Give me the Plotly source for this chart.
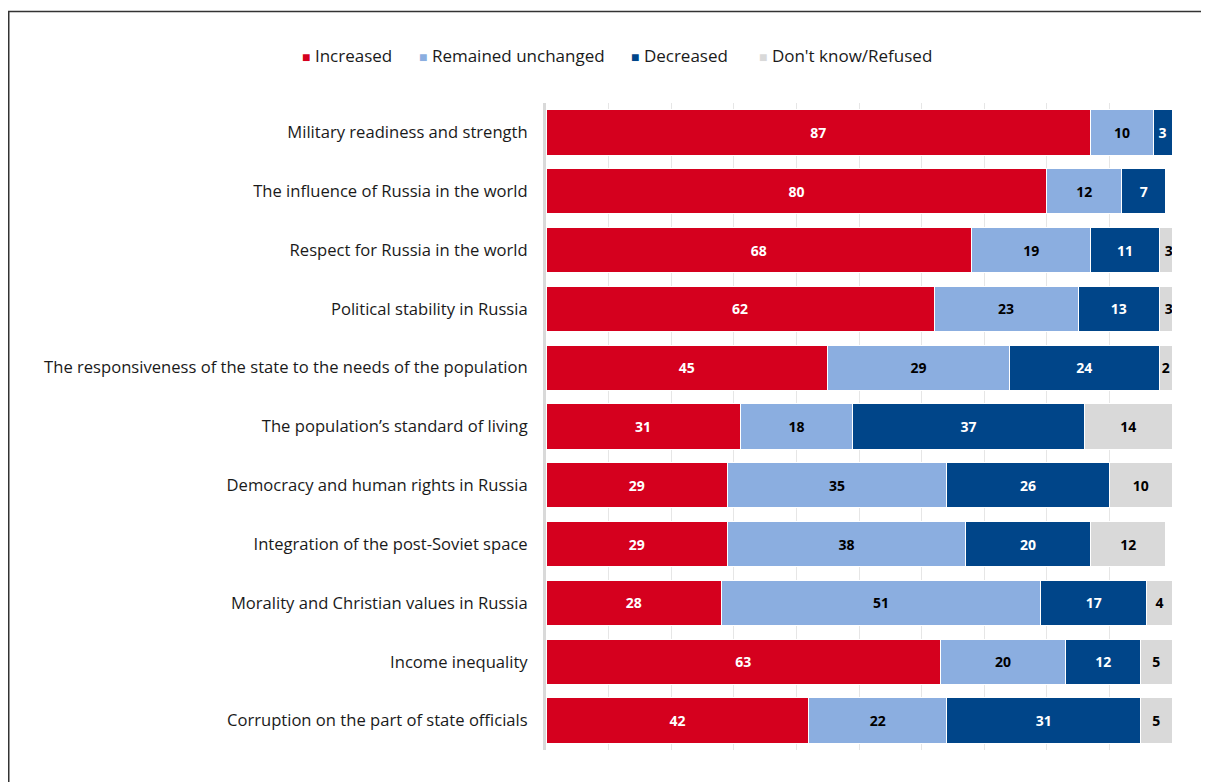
import plotly.graph_objects as go

categories = [
    "Military readiness and strength",
    "The influence of Russia in the world",
    "Respect for Russia in the world",
    "Political stability in Russia",
    "The responsiveness of the state to the needs of the population",
    "The population\u2019s standard of living",
    "Democracy and human rights in Russia",
    "Integration of the post-Soviet space",
    "Morality and Christian values in Russia",
    "Income inequality",
    "Corruption on the part of state officials",
]
increased = [87, 80, 68, 62, 45, 31, 29, 29, 28, 63, 42]
unchanged = [10, 12, 19, 23, 29, 18, 35, 38, 51, 20, 22]
decreased = [3, 7, 11, 13, 24, 37, 26, 20, 17, 12, 31]
dont_know = [0, 0, 3, 3, 2, 14, 10, 12, 4, 5, 5]

series_names = ["Increased", "Remained unchanged", "Decreased", "Don't know/Refused"]
series_values = [increased, unchanged, decreased, dont_know]
colors = ["#D5001E", "#8BAEE0", "#004589", "#D9D9D9"]
text_colors = ["white", "black", "white", "black"]

# the page body adds an 8px offset; positions below are reference pixels minus 8
OFF = 8
W, H = 1209, 782
L = 546 - OFF
T = 103 - OFF
R = W - (1172 - OFF)
B = H - (750 - OFF)

FONT = "Open Sans"

fig = go.Figure()
for name, vals, col, tcol in zip(series_names, series_values, colors, text_colors):
    fig.add_trace(go.Bar(
        y=categories, x=vals, name=name, orientation="h",
        marker=dict(color=col, line=dict(color="white", width=1)),
        text=[f"<b>{v}</b>" if v > 0 else "" for v in vals],
        textposition="inside", insidetextanchor="middle",
        textfont=dict(family=FONT, size=14, color=tcol),
        showlegend=False,
    ))

fig.update_layout(
    width=W, height=H,
    margin=dict(l=L, r=R, t=T, b=B, autoexpand=False),
    barmode="stack", bargap=0.23,
    plot_bgcolor="white", paper_bgcolor="white",
    uniformtext=dict(minsize=14, mode="show"),
    font=dict(family=FONT, size=16, color="#1a1a1a"),
    xaxis=dict(range=[0, 100], tickvals=[10, 20, 30, 40, 50, 60, 70, 80, 90],
               showticklabels=False, showgrid=True, gridcolor="#E6E6E6",
               gridwidth=1, zeroline=False, showline=False, fixedrange=True),
    yaxis=dict(autorange="reversed", showline=True, linecolor="#D9D9D9",
               linewidth=3, ticks="outside", ticklen=12, tickcolor="rgba(0,0,0,0)",
               tickfont=dict(family=FONT, size=16.6, color="#1a1a1a"),
               showgrid=False),
)

# border frame (pixel -> paper conversion)
pw, ph = W - L - R, H - T - B
def px_x(x):
    return (x - OFF - L) / pw
def px_y(y):
    return (H - B - (y - OFF)) / ph

fig.add_shape(type="rect", xref="paper", yref="paper",
              x0=px_x(8.75), x1=px_x(W + 40),
              y0=px_y(H + 40), y1=px_y(11.5),
              line=dict(color="#333333", width=1.5), fillcolor="rgba(0,0,0,0)", layer="below")

# legend as annotations
legend_x = [300, 417, 629, 757]
for name, col, lx in zip(series_names, colors, legend_x):
    fig.add_annotation(
        xref="paper", yref="paper",
        x=px_x(lx), y=px_y(55),
        xanchor="left", yanchor="middle", showarrow=False,
        text=f"<span style='color:{col};font-size:14px'>\u25A0</span> {name}",
        font=dict(family=FONT, size=17, color="#1a1a1a"),
    )

fig.write_html("out.html")
